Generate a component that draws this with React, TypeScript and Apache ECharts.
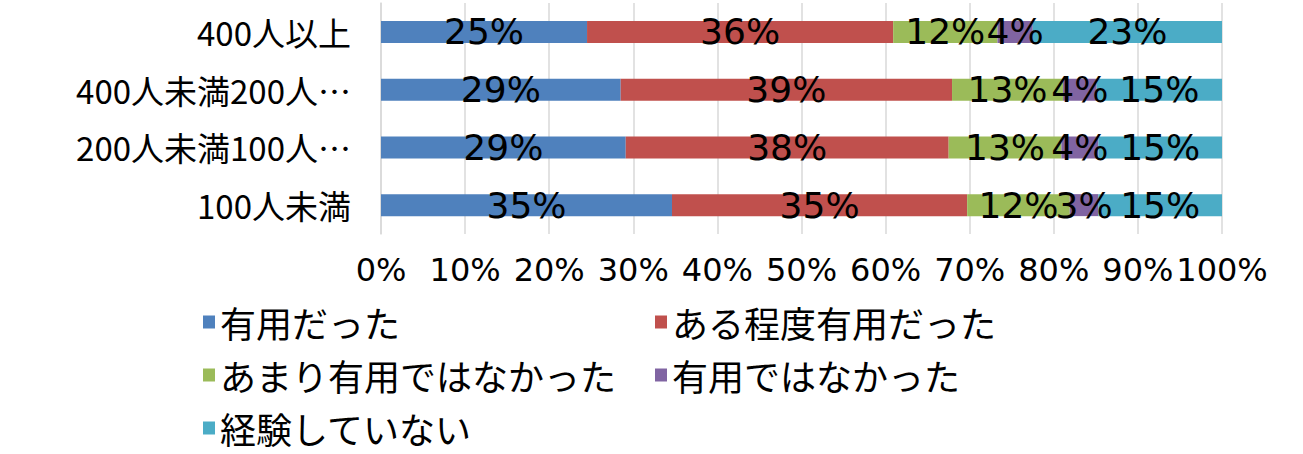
import React, { useEffect, useRef } from "react";
import * as echarts from "echarts";

const categories = ["100人未満", "200人未満100人…", "400人未満200人…", "400人以上"];
const seriesNames = ["有用だった", "ある程度有用だった", "あまり有用ではなかった", "有用ではなかった", "経験していない"];
const colors = ["#4F81BD", "#C0504D", "#9BBB59", "#8064A2", "#4BACC6"];
const usefulValues = [34.6, 29.1, 28.5, 24.5];
const somewhatValues = [35.1, 38.4, 39.4, 36.4];
const notVeryValues = [12.2, 13.4, 13.2, 12.4];
const notUsefulValues = [3.4, 4.4, 4.0, 4.2];
const noExperienceValues = [14.7, 14.7, 14.9, 22.5];
const allValues = [usefulValues, somewhatValues, notVeryValues, notUsefulValues, noExperienceValues];

export default function App() {
  const ref = useRef<HTMLDivElement>(null);
  useEffect(() => {
    document.body.style.margin = "0";
    const chart = echarts.init(ref.current!, null, { renderer: "svg" });
    const legendText = { fontSize: 36, color: "#000", fontFamily: "Noto Sans CJK JP", lineHeight: 38 };
    chart.setOption({
      animation: false,
      backgroundColor: "#fff",
      grid: { left: 381, right: 81, top: 3, bottom: 220 },
      xAxis: {
        type: "value",
        min: 0,
        max: 100,
        interval: 10,
        axisLine: { show: false },
        axisTick: { show: false },
        splitLine: { lineStyle: { color: "#D9D9D9", width: 1.5 } },
        axisLabel: {
          formatter: (v: number) => `${v}%`,
          fontSize: 32,
          color: "#000",
          fontFamily: "DejaVu Sans",
          margin: 20,
        },
      },
      yAxis: {
        type: "category",
        data: categories,
        axisTick: { show: false },
        axisLine: { lineStyle: { color: "#D9D9D9", width: 1.5 } },
        axisLabel: {
          fontSize: 33,
          color: "#000",
          fontFamily: "Noto Sans CJK JP",
          margin: 30,
        },
      },
      legend: [
        {
          data: [seriesNames[0], seriesNames[2], seriesNames[4]],
          orient: "vertical",
          left: 203,
          top: 303,
          padding: 0,
          itemWidth: 12,
          itemHeight: 13,
          itemGap: 15,
          icon: "rect",
          textStyle: legendText,
        },
        {
          data: [seriesNames[1], seriesNames[3]],
          orient: "vertical",
          left: 655,
          top: 303,
          padding: 0,
          itemWidth: 12,
          itemHeight: 13,
          itemGap: 15,
          icon: "rect",
          textStyle: legendText,
        },
      ],
      series: seriesNames.map((name, i) => ({
        name,
        type: "bar",
        stack: "total",
        barWidth: 22,
        data: allValues[i],
        itemStyle: { color: colors[i] },
        label: {
          show: true,
          position: "inside",
          formatter: (p: any) => `${Math.round(p.value)}%`,
          fontSize: 36,
          color: "#000",
          fontFamily: "DejaVu Sans",
        },
      })),
    });
    return () => chart.dispose();
  }, []);
  return <div ref={ref} style={{ width: 1303, height: 454 }} />;
}
